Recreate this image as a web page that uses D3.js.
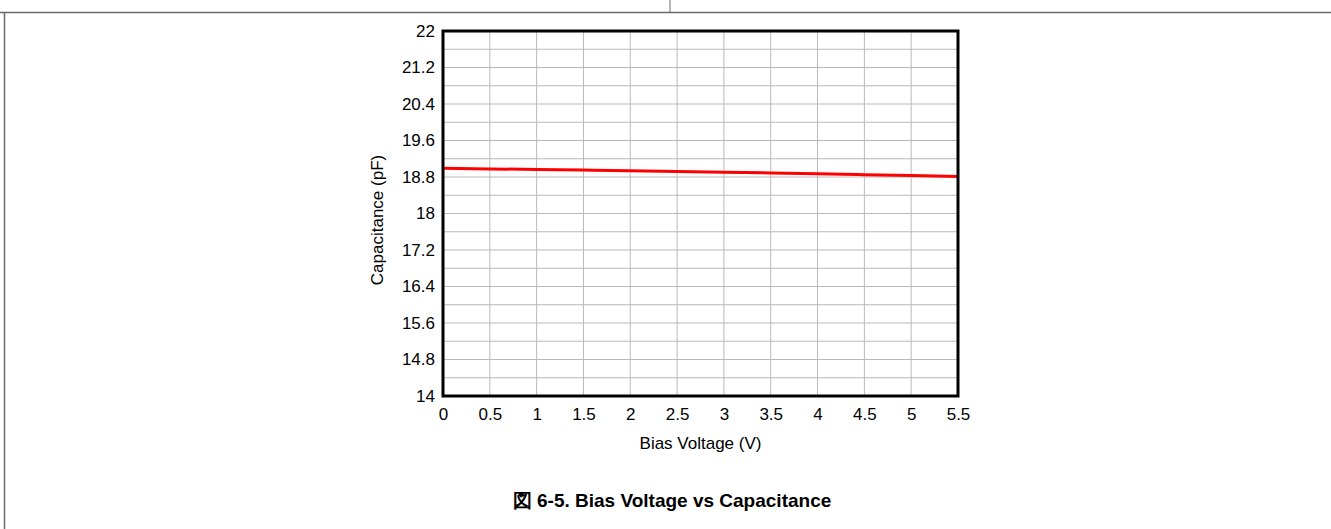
<!DOCTYPE html>
<html>
<head>
<meta charset="utf-8">
<script src="https://cdn.jsdelivr.net/npm/d3@7"></script>
<style>
  body { margin: 0; background: #fff; }
  svg { display: block; font-family: "Liberation Sans", Arial, sans-serif; }
</style>
</head>
<body>
<div id="chart"></div>
<script>
// data
const biasVoltage = [0, 0.5, 1, 1.5, 2, 2.5, 3, 3.5, 4, 4.5, 5, 5.5];
const capacitance = [18.99, 18.978, 18.965, 18.951, 18.937, 18.922, 18.906, 18.889, 18.871, 18.852, 18.832, 18.81];
const xTicks = [0, 0.5, 1, 1.5, 2, 2.5, 3, 3.5, 4, 4.5, 5, 5.5];
const yTicks = [14, 14.8, 15.6, 16.4, 17.2, 18, 18.8, 19.6, 20.4, 21.2, 22];
const yMinorGrid = d3.range(14, 22.001, 0.4);

const width = 1331, height = 529;
const plot = { left: 443, right: 958, top: 31, bottom: 396 };
const fontSize = 17;

const svg = d3.select("#chart").append("svg")
    .attr("width", width)
    .attr("height", height);

// page frame lines (datasheet layout)
svg.append("line")
    .attr("x1", 0).attr("x2", width).attr("y1", 12.5).attr("y2", 12.5)
    .attr("stroke", "#6a6a6a").attr("stroke-width", 1.5);
svg.append("line")
    .attr("x1", 4.5).attr("x2", 4.5).attr("y1", 12).attr("y2", height)
    .attr("stroke", "#6a6a6a").attr("stroke-width", 1.5);
svg.append("line")
    .attr("x1", 670).attr("x2", 670).attr("y1", 0).attr("y2", 12)
    .attr("stroke", "#6a6a6a").attr("stroke-width", 1);

const x = d3.scaleLinear().domain([0, 5.5]).range([plot.left, plot.right]);
const y = d3.scaleLinear().domain([14, 22]).range([plot.bottom, plot.top]);

// grid
const grid = svg.append("g").attr("class", "grid");
grid.selectAll(".vgrid")
    .data(xTicks)
    .enter().append("line")
    .attr("x1", d => x(d)).attr("x2", d => x(d))
    .attr("y1", plot.top).attr("y2", plot.bottom)
    .attr("stroke", "#b9b9b9").attr("stroke-width", 1);
grid.selectAll(".hgrid")
    .data(yMinorGrid)
    .enter().append("line")
    .attr("x1", plot.left).attr("x2", plot.right)
    .attr("y1", d => y(d)).attr("y2", d => y(d))
    .attr("stroke", "#b9b9b9").attr("stroke-width", 1);

// curve
const line = d3.line()
    .x((d, i) => x(biasVoltage[i]))
    .y(d => y(d))
    .curve(d3.curveMonotoneX);

svg.append("path")
    .datum(capacitance)
    .attr("d", line)
    .attr("fill", "none")
    .attr("stroke", "#ff0000")
    .attr("stroke-width", 3);

// frame
svg.append("rect")
    .attr("x", plot.left).attr("y", plot.top)
    .attr("width", plot.right - plot.left)
    .attr("height", plot.bottom - plot.top)
    .attr("fill", "none")
    .attr("stroke", "#000")
    .attr("stroke-width", 3);

// axes
const xAxis = d3.axisBottom(x).tickValues(xTicks).tickSize(0).tickPadding(12)
    .tickFormat(d => String(d));
const yAxis = d3.axisLeft(y).tickValues(yTicks).tickSize(0).tickPadding(8)
    .tickFormat(d => String(+d.toFixed(1)));

const gx = svg.append("g")
    .attr("transform", `translate(0,${plot.bottom})`)
    .call(xAxis);
const gy = svg.append("g")
    .attr("transform", `translate(${plot.left},0)`)
    .call(yAxis);

[gx, gy].forEach(g => {
    g.select(".domain").remove();
    g.selectAll("text")
        .attr("font-family", "'Liberation Sans', Arial, sans-serif")
        .attr("font-size", fontSize)
        .attr("fill", "#000");
});

// axis titles
svg.append("text")
    .attr("x", (plot.left + plot.right) / 2)
    .attr("y", 449)
    .attr("text-anchor", "middle")
    .attr("font-size", fontSize)
    .text("Bias Voltage (V)");

svg.append("text")
    .attr("transform", `translate(383,220) rotate(-90)`)
    .attr("text-anchor", "middle")
    .attr("font-size", fontSize)
    .text("Capacitance (pF)");

// caption
svg.append("text")
    .attr("x", 672)
    .attr("y", 507)
    .attr("text-anchor", "middle")
    .attr("font-size", 19)
    .attr("font-weight", "bold")
    .text("図 6-5. Bias Voltage vs Capacitance");
</script>
</body>
</html>
